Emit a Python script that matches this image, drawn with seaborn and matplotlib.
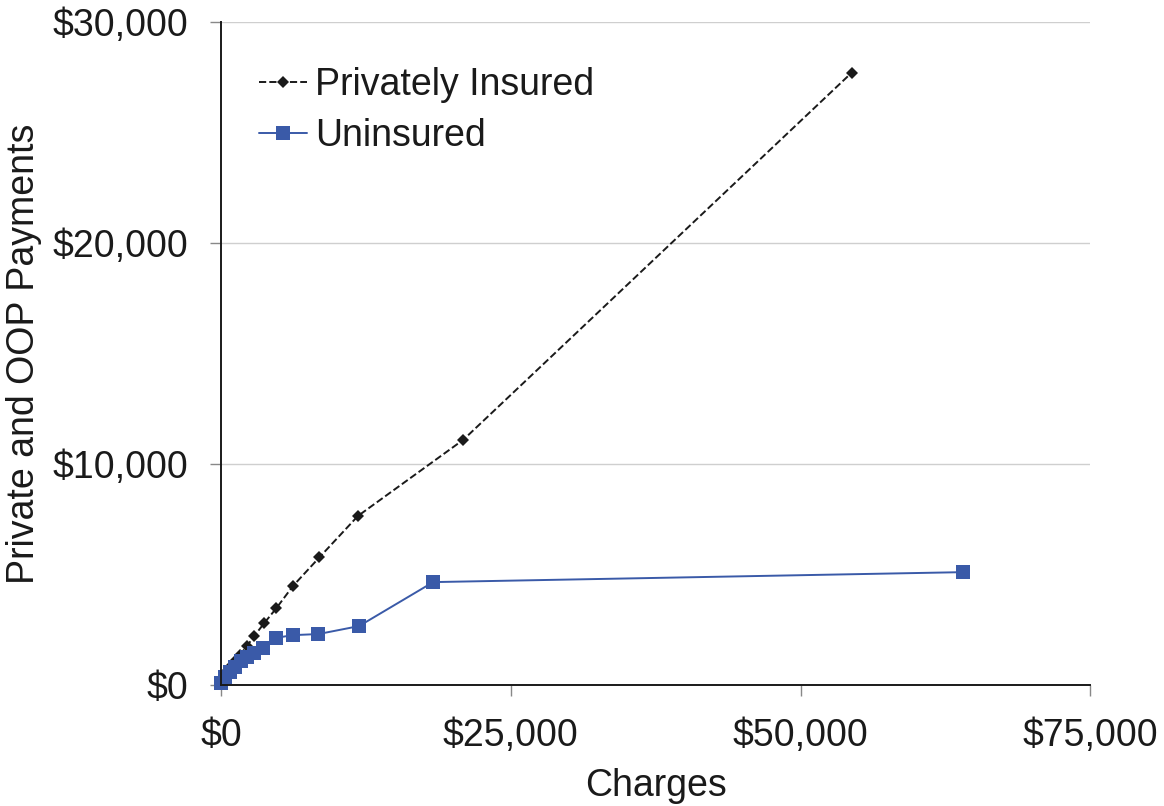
import matplotlib
matplotlib.use("Agg")
import matplotlib.pyplot as plt
import matplotlib.ticker as mticker
import pandas as pd
import seaborn as sns

# DATA
private_charges = [50, 350, 600, 900, 1200, 1600, 2220, 2870, 3740, 4750, 6190, 8480, 11800, 20900, 54400]
private_payments = [220, 450, 680, 900, 1100, 1360, 1760, 2230, 2820, 3470, 4480, 5780, 7650, 11100, 27700]
uninsured_charges = [0, 350, 800, 1200, 1700, 2200, 2800, 3650, 4750, 6200, 8400, 11900, 18300, 64000]
uninsured_payments = [80, 380, 600, 830, 1100, 1280, 1430, 1700, 2140, 2260, 2310, 2670, 4660, 5110]
x_ticks = [0, 25000, 50000, 75000]
y_ticks = [0, 10000, 20000, 30000]

private_df = pd.DataFrame({"charges": private_charges, "payments": private_payments})
uninsured_df = pd.DataFrame({"charges": uninsured_charges, "payments": uninsured_payments})

# STYLE
sns.set_style("ticks")
plt.rcParams['font.family'] = ['Liberation Sans', 'DejaVu Sans']

fig = plt.figure(figsize=(11.64, 8.06), dpi=100)
ax = fig.add_axes([0.190, 0.150, 0.7466, 0.8227])

blue = '#3a5aa8'
sns.lineplot(x="charges", y="payments", data=private_df, ax=ax, color='#1a1a1a',
             linestyle='--', linewidth=1.4, marker='D', markersize=6.5,
             markeredgewidth=0, label="Privately Insured", sort=False, clip_on=False)
sns.lineplot(x="charges", y="payments", data=uninsured_df, ax=ax, color=blue,
             linestyle='-', linewidth=1.4, marker='s', markersize=9.5,
             markeredgewidth=0, label="Uninsured", sort=False, clip_on=False)

ax.set_xlim(0, 75000)
ax.set_ylim(0, 30000)
ax.set_xticks(x_ticks)
ax.set_yticks(y_ticks)
fmt = mticker.FuncFormatter(lambda v, p: "${:,.0f}".format(v))
ax.xaxis.set_major_formatter(fmt)
ax.yaxis.set_major_formatter(fmt)
ax.yaxis.grid(True, color='#cfcfcf', linewidth=1)
ax.set_axisbelow(True)

sns.despine(ax=ax)
ax.spines['left'].set_color('#1a1a1a')
ax.spines['bottom'].set_color('#1a1a1a')
ax.spines['left'].set_linewidth(1.4)
ax.spines['bottom'].set_linewidth(1.4)
ax.tick_params(axis='both', direction='out', length=8, width=1, color='#888888',
               labelsize=27, labelcolor='#1a1a1a')
ax.tick_params(axis='x', pad=16)
ax.tick_params(axis='y', pad=16)

ax.set_xlabel("Charges", fontsize=27, color='#1a1a1a', labelpad=10)
ax.set_ylabel("Private and OOP Payments", fontsize=27, color='#1a1a1a')
ax.yaxis.set_label_coords(-0.206, 0.5)

leg = ax.legend(loc='upper left', bbox_to_anchor=(0.043, 0.932), frameon=False,
                fontsize=27, handlelength=1.3, handletextpad=0.2, labelspacing=0.4,
                borderpad=0, borderaxespad=0)
for t in leg.get_texts():
    t.set_color('#1a1a1a')

plt.savefig("out.png", dpi=100)
plt.close()
